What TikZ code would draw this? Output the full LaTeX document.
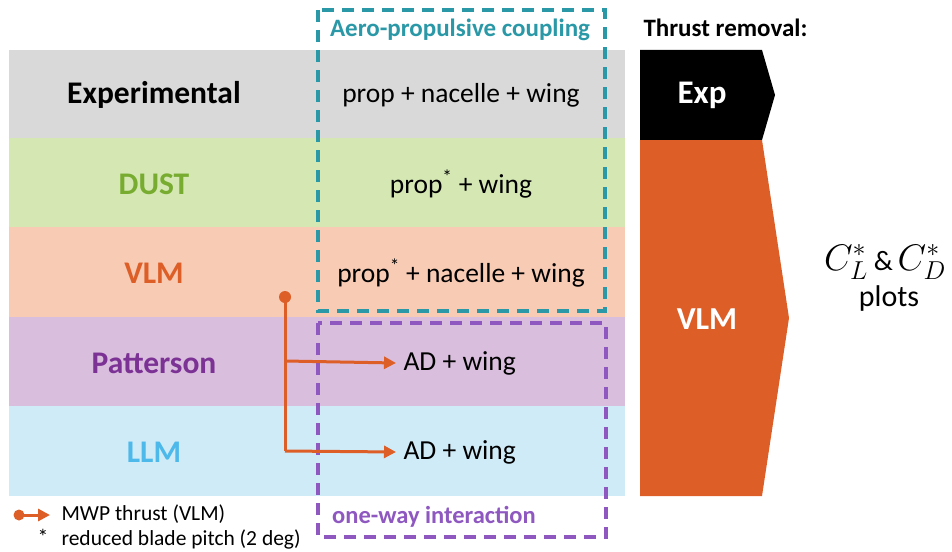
\RequirePackage{fix-cm}
\documentclass[tikz,border=0pt]{standalone}
\usepackage{fontspec}
\setmainfont{Carlito}
\usetikzlibrary{arrows.meta}
\definecolor{bgray}{HTML}{D9D9D9}
\definecolor{bgreen}{HTML}{D5E8B4}
\definecolor{bsalmon}{HTML}{F8CBB5}
\definecolor{bpurple}{HTML}{D9BEDD}
\definecolor{bblue}{HTML}{CFEBF8}
\definecolor{tgreen}{HTML}{77AC30}
\definecolor{torange}{HTML}{DD5F27}
\definecolor{tpurple}{HTML}{7B3294}
\definecolor{tblue}{HTML}{4DB8EA}
\definecolor{teal}{HTML}{2A98A6}
\definecolor{dpurple}{HTML}{8E58C0}
\tikzset{
  band/.style={fill=#1, draw=none},
  rowlabel/.style={font=\bfseries\fontsize{31.5}{36}\selectfont, text=#1},
  cell/.style={font=\fontsize{27.5}{32}\selectfont},
  thr/.style={draw=torange, line width=3pt},
  thrarrow/.style={thr, -{Triangle[length=12pt,width=12pt]}},
  dashbox/.style={draw=#1, line width=3.4pt, dash pattern=on 12pt off 8pt},
}
\begin{document}
\begin{tikzpicture}[x=1pt,y=-1pt]
\useasboundingbox (0,0) rectangle (952,551);
% bands
\fill[band=bgray] (9,50) rectangle (625,138);
\fill[band=bgreen] (9,138) rectangle (625,227);
\fill[band=bsalmon] (9,227) rectangle (625,317);
\fill[band=bpurple] (9,317) rectangle (625,406);
\fill[band=bblue] (9,406) rectangle (625,496);
% row labels
\node[rowlabel=black] (lexp) at (154,95) {Experimental};
\node[rowlabel=tgreen] (ldust) at (154,184) {DUST};
\node[rowlabel=torange] (lvlm) at (154,273) {VLM};
\node[rowlabel=tpurple] (lpat) at (154,363) {Patterson};
\node[rowlabel=tblue] (lllm) at (154,452) {LLM};
% cells
\node[cell] (cexp) at (461,95) {prop + nacelle + wing};
\node[cell] (cdust) at (461,184) {prop\textsuperscript{*} + wing};
\node[cell] (cvlm) at (461,273) {prop\textsuperscript{*} + nacelle + wing};
\node[cell,anchor=west] (cpat) at (400,363) {AD + wing};
\node[cell,anchor=west] (cllm) at (400,452) {AD + wing};
% dashed boxes
\draw[dashbox=teal] (318,10) rectangle (605,311);
\node[font=\bfseries\fontsize{25}{28}\selectfont, text=teal] (tap) at (460,30) {Aero-propulsive coupling};
\draw[dashbox=dpurple] (318,323) rectangle (606,537);
\node[font=\bfseries\fontsize{24.5}{28}\selectfont, text=dpurple] (tow) at (434,517) {one-way interaction};
% thrust arrows
\coordinate (src) at (285,297);
\coordinate (j1) at (285,361);
\coordinate (j2) at (285,451);
\fill[torange] (src) circle (6);
\draw[thr] (src) -- (j2);
\draw[thrarrow] (j1) -- ([xshift=-4pt]cpat.west);
\draw[thrarrow] (j2) -- ([xshift=-4pt]cllm.west);
% right side
\node[font=\bfseries\fontsize{25}{28}\selectfont, anchor=west] (trem) at (640,28) {Thrust removal:};
\fill[black] (640,50) -- (762,50) -- (775,95) -- (762,140) -- (640,140) -- cycle;
\node[font=\bfseries\fontsize{33}{36}\selectfont, text=white] (sexp) at (702,95) {Exp};
\fill[torange] (640,140) -- (762,140) -- (789,318) -- (762,496) -- (640,496) -- cycle;
\node[font=\bfseries\fontsize{32}{36}\selectfont, text=white] (svlm) at (707,319) {VLM};
\node[font=\fontsize{37}{42}\selectfont, inner sep=0pt] (cl) at (885,262) {$C_L^{*}$\,\fontsize{28}{32}\selectfont\&\,\fontsize{37}{42}\selectfont$C_D^{*}$};
\node[font=\fontsize{30}{34}\selectfont] (plots) at (889,298) {plots};
% legend
\coordinate (la) at (19,515);
\coordinate (lb) at (50,515);
\fill[torange] (la) circle (5.5);
\draw[thrarrow] (la) -- (lb);
\node[font=\fontsize{21.5}{24}\selectfont, anchor=west] (leg1) at (58,514) {MWP thrust (VLM)};
\node[font=\fontsize{21.5}{24}\selectfont, inner sep=0pt] (legs) at (43,537) {*};
\node[font=\fontsize{21.5}{24}\selectfont, anchor=west] (leg2) at (58,539) {reduced blade pitch (2 deg)};
\end{tikzpicture}
\end{document}
